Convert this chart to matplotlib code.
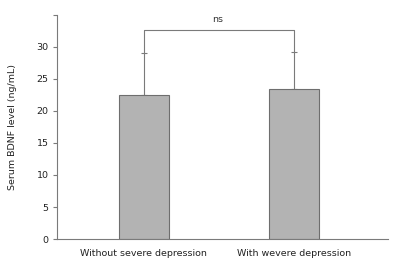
import matplotlib.pyplot as plt

groups = ['Without severe depression', 'With wevere depression']
means = [22.5, 23.4]
sd_upper = [6.6, 5.8]
bracket_y = 32.6
yticks = [0, 5, 10, 15, 20, 25, 30]

plt.rcParams['font.family'] = ['DejaVu Sans']

fig = plt.figure(figsize=(4.02, 2.71), dpi=100)
ax = fig.add_axes([0.142, 0.118, 0.823, 0.827])

x = list(range(len(groups)))
ax.bar(x, means, width=0.335, color='#b3b3b3', edgecolor='#6e6e6e', linewidth=0.8, zorder=2)
ax.errorbar(x, means, yerr=[[0, 0], sd_upper], fmt='none', ecolor='#7a7a7a',
            elinewidth=0.8, capsize=2, capthick=0.8, zorder=1)

# significance bracket
tops = [m + s for m, s in zip(means, sd_upper)]
ax.plot([x[0], x[0], x[1], x[1]], [tops[0], bracket_y, bracket_y, tops[1]],
        color='#7a7a7a', linewidth=0.8)
ax.text(0.49, bracket_y + 1.0, 'ns', ha='center', va='bottom', fontsize=6.8, color='#333333')

ax.set_xlim(-0.58, 1.63)
ax.set_ylim(0, 35)
ax.set_yticks(yticks + [35])
ax.set_yticklabels([str(t) for t in yticks] + [''])
ax.set_xticks(x)
ax.set_xticklabels(groups, fontsize=6.8, color='#222222')
ax.tick_params(axis='x', length=0, pad=7)
ax.tick_params(axis='y', length=3, width=0.8, color='#7a7a7a', labelsize=6.8, labelcolor='#222222', pad=3)
ax.set_ylabel('Serum BDNF level (ng/mL)', fontsize=6.8, color='#222222', labelpad=14)

for s in ['top', 'right']:
    ax.spines[s].set_visible(False)
for s in ['left', 'bottom']:
    ax.spines[s].set_color('#7a7a7a')
    ax.spines[s].set_linewidth(0.8)

fig.savefig('out.png', dpi=100)
